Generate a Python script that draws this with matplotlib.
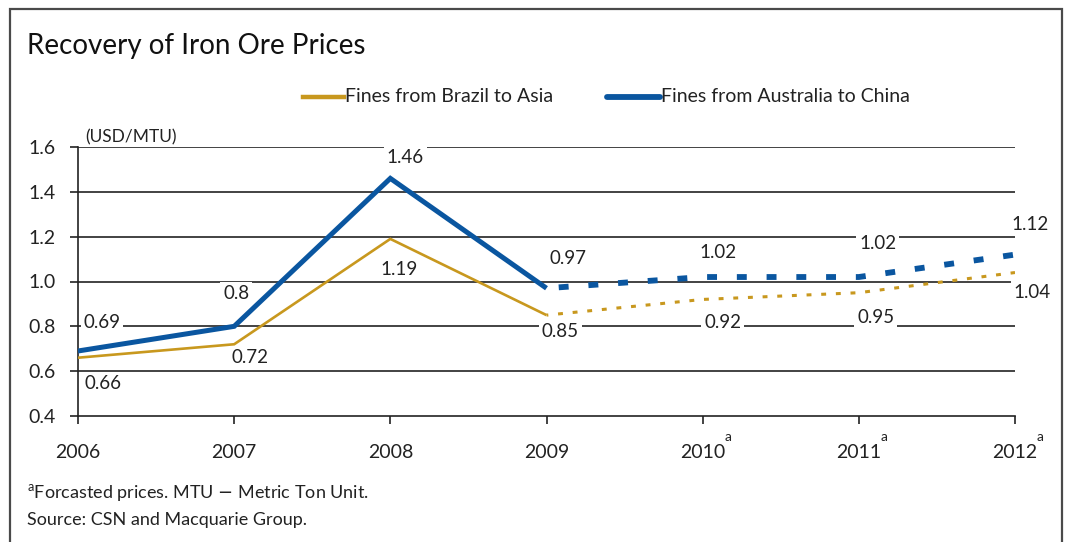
import matplotlib
matplotlib.use("Agg")
import matplotlib.pyplot as plt
from matplotlib.patches import Rectangle
from matplotlib.lines import Line2D

plt.rcParams['font.family'] = ['Lato', 'DejaVu Sans']

# ---- data ----
years = ["2006", "2007", "2008", "2009", "2010", "2011", "2012"]
forecast = [False, False, False, False, True, True, True]
brazil = [0.66, 0.72, 1.19, 0.85, 0.92, 0.95, 1.04]
australia = [0.69, 0.80, 1.46, 0.97, 1.02, 1.02, 1.12]
brazil_labels = ["0.66", "0.72", "1.19", "0.85", "0.92", "0.95", "1.04"]
australia_labels = ["0.69", "0.8", "1.46", "0.97", "1.02", "1.02", "1.12"]
yticks = [0.4, 0.6, 0.8, 1.0, 1.2, 1.4, 1.6]
title = "Recovery of Iron Ore Prices"
series_names = ["Fines from Brazil to Asia", "Fines from Australia to China"]

# ---- styles ----
GOLD = "#C8981E"
BLUE = "#0A56A0"
TXT = "#222222"
W, H = 1069, 542
fig = plt.figure(figsize=(W / 100, H / 100), dpi=100)

def px(x, y):
    return x / W, 1 - y / H

# outer frame
fig.patches.append(Rectangle(px(10, 600), (1062 - 10) / W, (600 - 9) / H,
                             transform=fig.transFigure, fill=False,
                             edgecolor="#4a4a4a", linewidth=1.6))

ax = fig.add_axes([78 / W, (542 - 416) / H, (1015 - 78) / W, (416 - 147) / H])
x = list(range(len(years)))
ax.set_xlim(0, len(years) - 1)
ax.set_ylim(0.4, 1.6)

# grid
for yv in yticks[1:]:
    ax.axhline(yv, color=TXT, lw=1.2, zorder=1)
for s in ["top", "right"]:
    ax.spines[s].set_visible(False)
for s in ["left", "bottom"]:
    ax.spines[s].set_color(TXT)
    ax.spines[s].set_linewidth(1.2)

ax.set_yticks(yticks)
ax.set_yticklabels([f"{v:.1f}" for v in yticks], fontsize=14, color=TXT)
ax.set_xticks(x)
ax.set_xticklabels(years, fontsize=14, color=TXT)
ax.tick_params(axis="y", length=6, width=1.2, pad=10, color=TXT)
ax.tick_params(axis="x", length=6, width=1.2, pad=14, color=TXT)

# superscript "a" for forecast years
for i, f in enumerate(forecast):
    if f:
        ax.annotate("a", xy=(i, 0), xycoords=("data", "axes fraction"),
                    xytext=(18, -15), textcoords="offset points",
                    fontsize=10, color=TXT, ha="center", va="center")

# lines: historical solid, forecast dashed
n_hist = 4
ax.plot(x[:n_hist], brazil[:n_hist], color=GOLD, lw=1.9, zorder=3,
        solid_capstyle="butt", solid_joinstyle="miter")
ax.plot(x[n_hist - 1:], brazil[n_hist - 1:], color=GOLD, lw=2.2, zorder=3,
        linestyle=(1, (1.6, 3.2)), dash_capstyle="butt")
ax.plot(x[:n_hist], australia[:n_hist], color=BLUE, lw=3.6, zorder=4,
        solid_capstyle="butt", solid_joinstyle="miter")
ax.plot(x[n_hist - 1:], australia[n_hist - 1:], color=BLUE, lw=4.2, zorder=4,
        linestyle=(3, (1.7, 3.4)), dash_capstyle="butt")

# data labels (offsets in pixels)
aus_off = [(24, 28), (2, 33), (15, 21), (22, 30), (15, 25), (19, 34), (15, 30)]
bra_off = [(25, -26), (16, -13), (9, -31), (14, -16), (20, -23), (17, -25), (17, -20)]
bbox = dict(boxstyle="square,pad=0.15", fc="white", ec="none")
for i in x:
    ax.annotate(australia_labels[i], xy=(i, australia[i]),
                xytext=(aus_off[i][0] * 0.72, aus_off[i][1] * 0.72),
                textcoords="offset points", ha="center", va="center",
                fontsize=13.5, color=TXT, bbox=bbox, zorder=6,
                annotation_clip=False)
    ax.annotate(brazil_labels[i], xy=(i, brazil[i]),
                xytext=(bra_off[i][0] * 0.72, bra_off[i][1] * 0.72),
                textcoords="offset points", ha="center", va="center",
                fontsize=13.5, color=TXT, bbox=bbox, zorder=6,
                annotation_clip=False)

# unit label
fig.text(*px(85, 137), "(USD/MTU)", fontsize=12.5, color=TXT,
         ha="left", va="center")

# title
fig.text(*px(27, 46), title, fontsize=20, color="#111111",
         ha="left", va="center")

# legend (manual)
fig.lines.append(Line2D([303 / W, 344 / W], [1 - 97 / H] * 2,
                        transform=fig.transFigure, color=GOLD, lw=3.2))
fig.text(*px(345, 97), series_names[0], fontsize=14, color=TXT,
         ha="left", va="center")
fig.lines.append(Line2D([607 / W, 660 / W], [1 - 97 / H] * 2,
                        transform=fig.transFigure, color=BLUE, lw=4.2,
                        solid_capstyle="round"))
fig.text(*px(661, 97), series_names[1], fontsize=14, color=TXT,
         ha="left", va="center")

# footnotes
fig.text(*px(27, 493), r"$^\mathregular{a}$Forcasted prices. MTU $-$ Metric Ton Unit.",
         fontsize=13, color=TXT, ha="left", va="center")
fig.text(*px(27, 520), "Source: CSN and Macquarie Group.",
         fontsize=13, color=TXT, ha="left", va="center")

fig.savefig("out.png", dpi=100, facecolor="white")
